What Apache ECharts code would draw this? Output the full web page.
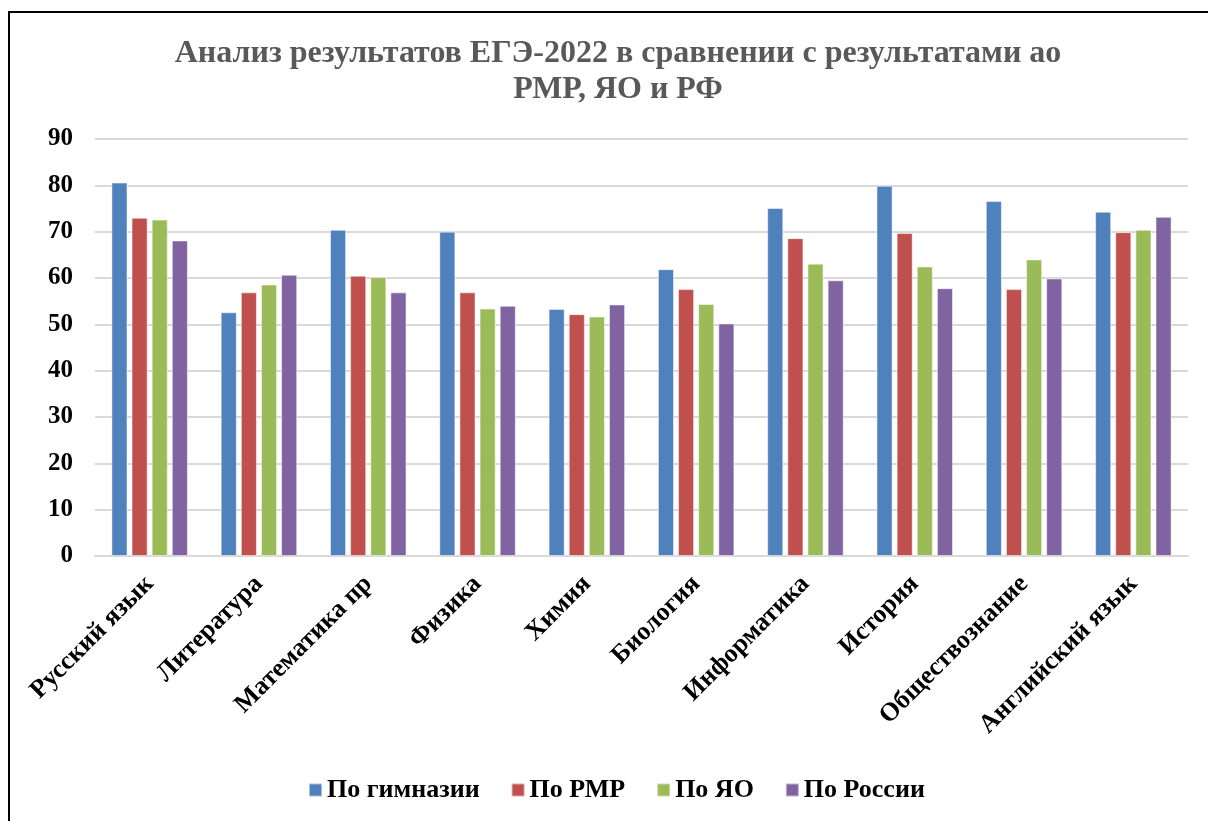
<!DOCTYPE html>
<html><head><meta charset="utf-8">
<script src="https://cdn.jsdelivr.net/npm/echarts@6/dist/echarts.min.js"></script>
<style>
html,body{margin:0;padding:0;background:#fff;}
#frame{position:absolute;left:8px;top:11px;width:1210px;height:830px;border:2px solid #000;box-sizing:border-box;}
#c{position:absolute;left:0;top:0;width:1208px;height:821px;}
</style></head>
<body>
<div id="frame"></div>
<div id="c"></div>
<script>
const categories = ['Русский язык','Литература','Математика пр','Физика','Химия','Биология','Информатика','История','Обществознание','Английский язык'];
const seriesNames = ['По гимназии','По РМР','По ЯО','По России'];
const gymnasium = [80.6, 52.6, 70.4, 70.0, 53.3, 61.9, 75.1, 79.9, 76.6, 74.3];
const rmr = [73.0, 56.9, 60.5, 56.9, 52.2, 57.6, 68.6, 69.7, 57.6, 69.9];
const yo = [72.6, 58.6, 60.2, 53.4, 51.7, 54.4, 63.1, 62.5, 64.0, 70.4];
const russia = [68.1, 60.7, 56.9, 54.0, 54.3, 50.2, 59.5, 57.8, 59.9, 73.2];
const colors = ['#4f81bd','#c0504d','#9bbb59','#8064a2'];
const values = [gymnasium, rmr, yo, russia];

const chart = echarts.init(document.getElementById('c'));
const font = '"Liberation Serif","Times New Roman",serif';
chart.setOption({
  animation: false,
  title: {
    text: 'Анализ результатов ЕГЭ-2022 в сравнении с результатами ао\nРМР, ЯО и РФ',
    left: 613, textAlign: 'center', top: 31,
    textStyle: {fontFamily: font, fontSize: 32, fontWeight: 'bold', color: '#595959', lineHeight: 36}
  },
  legend: {
    top: 772, left: 303, itemWidth: 13, itemHeight: 13, itemGap: 31,
    icon: 'rect',
    textStyle: {fontFamily: font, fontSize: 26, fontWeight: 'bold', color: '#000'},
    data: seriesNames
  },
  grid: {left: 95, right: 20, top: 139, bottom: 265, containLabel: false},
  xAxis: {
    type: 'category', data: categories,
    axisLine: {lineStyle: {color: '#d9d9d9', width: 2}},
    axisTick: {show: false},
    axisLabel: {rotate: 45, interval: 0, margin: 24, fontFamily: font, fontSize: 26, fontWeight: 'bold', color: '#000'}
  },
  yAxis: {
    type: 'value', min: 0, max: 90, interval: 10,
    axisLine: {show: false}, axisTick: {show: false},
    splitLine: {lineStyle: {color: '#d9d9d9', width: 2}},
    axisLabel: {fontFamily: font, fontSize: 25, fontWeight: 'bold', color: '#000', margin: 22}
  },
  series: seriesNames.map((n, i) => ({
    name: n, type: 'bar', data: values[i],
    barGap: '25%', barCategoryGap: '30%',
    itemStyle: {color: colors[i], borderColor: 'rgba(255,255,255,0.5)', borderWidth: 1}
  }))
});
</script>
</body></html>
